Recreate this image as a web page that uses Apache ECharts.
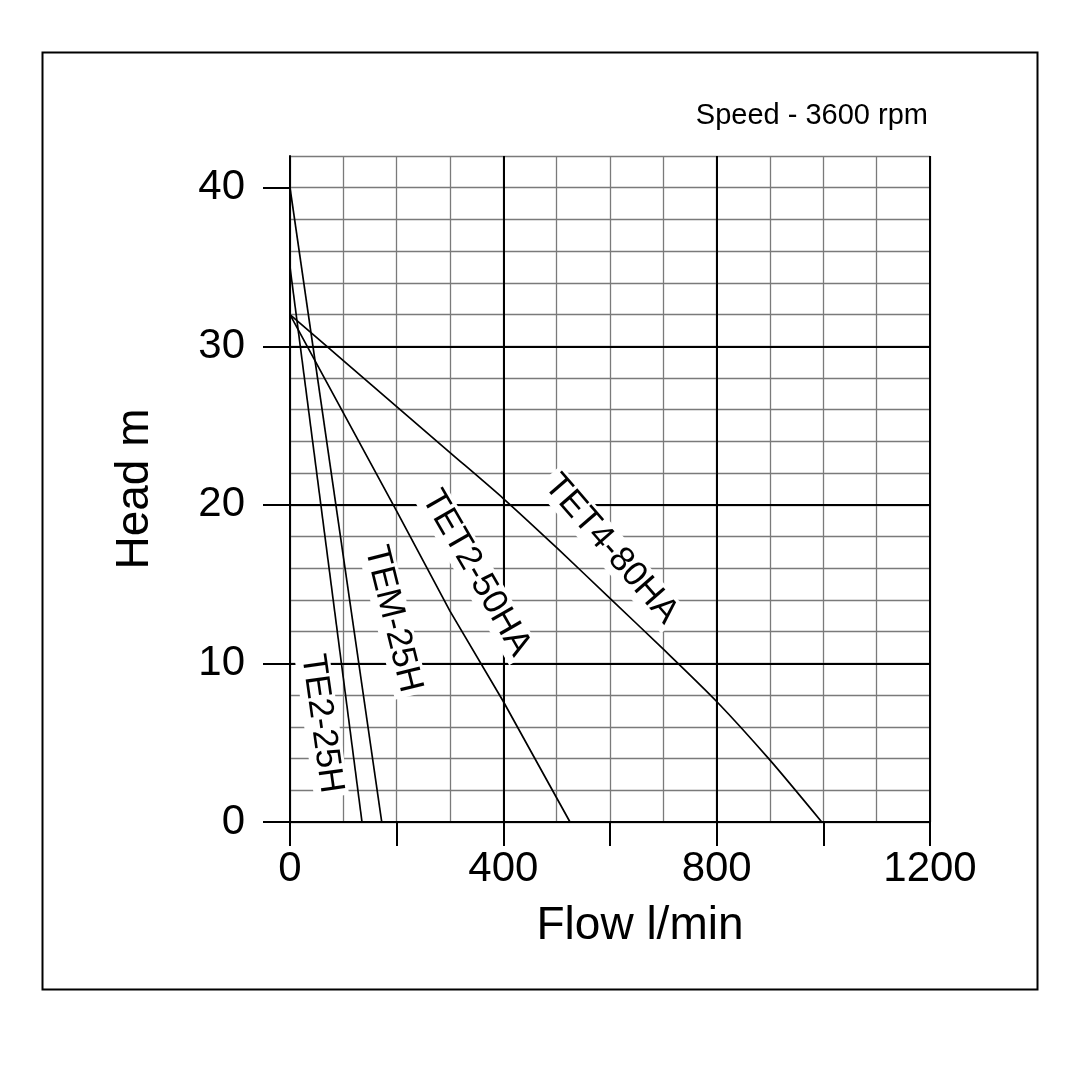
<!DOCTYPE html>
<html><head><meta charset="utf-8">
<script src="https://cdn.jsdelivr.net/npm/echarts@6/dist/echarts.min.js"></script>
<style>html,body{margin:0;padding:0;background:#fff}#chart{width:1080px;height:1080px}</style>
</head><body><div id="chart"></div>
<script>
// ---- data ----
const curveNames = ['TE2-25H', 'TEM-25H', 'TET2-50HA', 'TET4-80HA'];
const te2Flow  = [0, 135];
const te2Head  = [35, 0];
const temFlow  = [0, 172];
const temHead  = [40, 0];
const tet2Flow = [0, 100, 200, 300, 400, 525];
const tet2Head = [32, 25.8, 19.6, 13.3, 7.6, 0];
const tet4Flow = [0, 100, 200, 300, 400, 500, 600, 700, 800, 900, 997];
const tet4Head = [32, 29.1, 26.2, 23.3, 20.4, 17.3, 14.1, 10.9, 7.6, 3.9, 0];
const xTickValues  = [0, 200, 400, 600, 800, 1000, 1200];
const xLabelValues = [0, 400, 800, 1200];
const yTickValues  = [0, 10, 20, 30, 40];
const speedText = 'Speed - 3600 rpm';
// curve label anchors (data coordinates)
const labelFlow = [59, 193, 349, 602];
const labelHead = [6.2, 12.8, 15.7, 17.2];

// ---- presentation ----
const labelAngle = [-82, -76, -60, -49];
const FONT = "'Liberation Sans', Arial, sans-serif";
const pairs = (xs, ys) => xs.map((x, i) => [x, ys[i]]);
const curves = [pairs(te2Flow, te2Head), pairs(temFlow, temHead), pairs(tet2Flow, tet2Head), pairs(tet4Flow, tet4Head)];

const lineSeries = curves.map((d, i) => ({
  type: 'line', name: curveNames[i], data: d, symbol: 'none', smooth: i === 3 ? 0.25 : false,
  xAxisIndex: 0, yAxisIndex: 0, z: 3,
  lineStyle: { color: '#000', width: 1.7 }
}));
const labelSeries = curveNames.map((n, i) => ({
  type: 'scatter', data: [[labelFlow[i], labelHead[i]]], symbolSize: 0.01,
  xAxisIndex: 0, yAxisIndex: 0, z: 5,
  itemStyle: { color: '#000', opacity: 1 },
  label: { show: true, position: 'inside', formatter: n, rotate: labelAngle[i],
    fontFamily: FONT, fontSize: 35, color: '#000', opacity: 1, textBorderWidth: 0, textBorderColor: 'transparent',
    backgroundColor: '#fff', padding: [0, 4] }
}));

const chart = echarts.init(document.getElementById('chart'), null, { renderer: 'canvas' });
chart.setOption({
  animation: false,
  backgroundColor: '#fff',
  textStyle: { fontFamily: FONT },
  title: { text: speedText, right: 152, top: 101, padding: 0,
    textStyle: { fontFamily: FONT, fontSize: 29, fontWeight: 'normal', color: '#000' } },
  graphic: [{ type: 'rect', left: 40, top: 50, shape: { width: 995, height: 937 },
    style: { fill: 'none', stroke: '#000', lineWidth: 2 }, silent: true }],
  grid: { left: 290, right: 150, top: 156, bottom: 258 },
  xAxis: [
    { type: 'value', min: 0, max: 1200, interval: 200, z: 2,
      name: 'Flow l/min', nameLocation: 'middle', nameGap: 81,
      nameTextStyle: { fontFamily: FONT, fontSize: 46, color: '#000', padding: [0, 0, 0, 60] },
      axisLine: { show: true, lineStyle: { color: '#000', width: 2 } },
      axisTick: { show: true, length: 24, customValues: xTickValues, lineStyle: { color: '#000', width: 2 } },
      axisLabel: { show: true, margin: 26, customValues: xLabelValues, fontFamily: FONT, fontSize: 42, color: '#000',
        formatter: v => String(v) },
      splitLine: { show: true, lineStyle: { color: ['#000', 'rgba(0,0,0,0)'], width: 2 } } },
    { type: 'value', min: 0, max: 1200, interval: 100, z: 1,
      axisLine: { show: false }, axisTick: { show: false }, axisLabel: { show: false },
      splitLine: { show: true, lineStyle: { color: '#7a7a7a', width: 1.3 } } }
  ],
  yAxis: [
    { type: 'value', min: 0, max: 42, interval: 10, z: 2,
      name: 'Head m', nameLocation: 'middle', nameGap: 132,
      nameTextStyle: { fontFamily: FONT, fontSize: 46, color: '#000' },
      axisLine: { show: true, lineStyle: { color: '#000', width: 2 } },
      axisTick: { show: true, length: 27, customValues: yTickValues, lineStyle: { color: '#000', width: 2 } },
      axisLabel: { show: true, margin: 45, customValues: yTickValues, fontFamily: FONT, fontSize: 42, color: '#000',
        formatter: v => String(v) },
      splitLine: { show: true, showMaxLine: false, lineStyle: { color: '#000', width: 2 } } },
    { type: 'value', min: 0, max: 42, interval: 2, z: 1,
      axisLine: { show: false }, axisTick: { show: false }, axisLabel: { show: false },
      splitLine: { show: true, lineStyle: { color: '#7a7a7a', width: 1.3 } } }
  ],
  series: lineSeries.concat(labelSeries)
});
</script>
</body></html>
